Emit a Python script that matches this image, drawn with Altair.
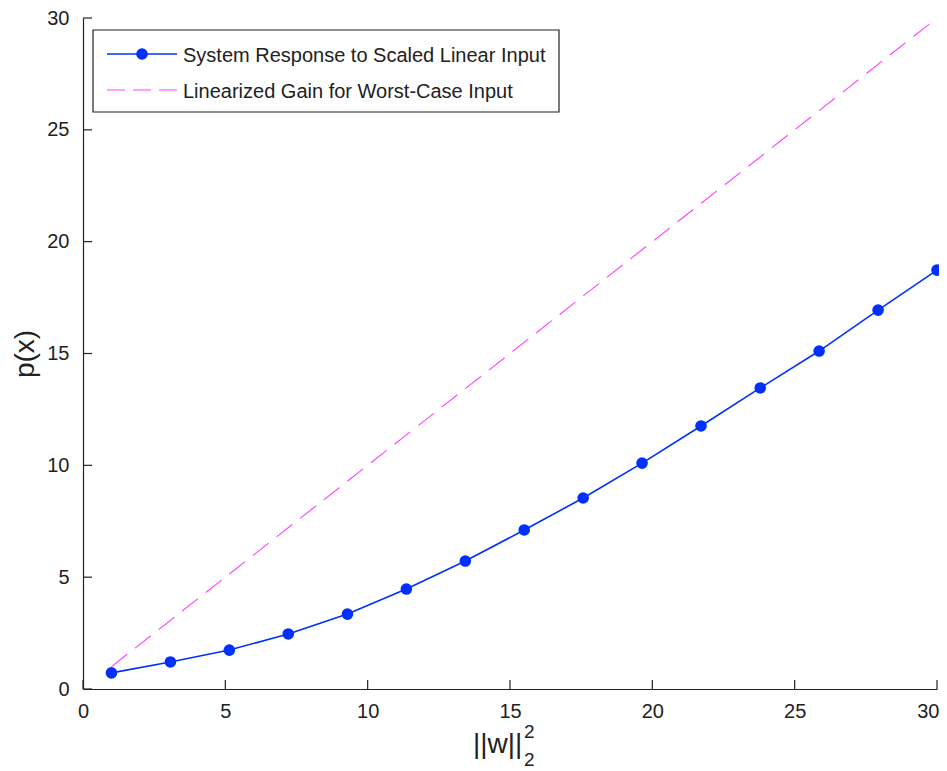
import altair as alt
import pandas as pd

# ---- data ----
x_vals = [1.0, 3.07, 5.14, 7.21, 9.29, 11.36, 13.43, 15.5, 17.57, 19.64, 21.71, 23.79, 25.86, 27.93, 30.0]
y_vals = [0.72, 1.21, 1.74, 2.46, 3.35, 4.47, 5.72, 7.11, 8.54, 10.1, 11.76, 13.46, 15.11, 16.94, 18.73]
gain_x = [1, 30]
gain_y = [1, 30]
tick_vals = [0, 5, 10, 15, 20, 25, 30]
series_names = ["System Response to Scaled Linear Input", "Linearized Gain for Worst-Case Input"]
x_title = ["||w||"]
x_title_sup = ["2"]
x_title_sub = ["2"]

W, H = 854, 671
FONT = "Liberation Sans"
BLUE = "#0030ff"
MAG = "#ff40ff"
INK = "#222222"

xs = alt.Scale(domain=[0, 30], nice=False, zero=False)
ys = alt.Scale(domain=[0, 30], nice=False, zero=False)

x_axis = alt.Axis(values=tick_vals, ticks=False, grid=False, labelFontSize=20, labelFont=FONT,
                  labelColor=INK, labelPadding=12, domainColor=INK, domainWidth=1.2,
                  title=None, labelFlush=False,
                  labelAlign=alt.condition("datum.value == 30", alt.value("right"), alt.value("center")),
                  labelOffset=alt.condition("datum.value == 30", alt.value(2), alt.value(0)))
y_axis = alt.Axis(values=tick_vals, ticks=False, grid=False, labelFontSize=20, labelFont=FONT,
                  labelColor=INK, labelPadding=14, domainColor=INK, domainWidth=1.2,
                  title="p(x)", titleFontSize=28, titleFont=FONT, titleFontWeight="normal",
                  titleColor=INK, titlePadding=7, labelFlush=False)

X = alt.X("x:Q", scale=xs, axis=x_axis)
Y = alt.Y("y:Q", scale=ys, axis=y_axis)

resp = pd.DataFrame({"x": x_vals, "y": y_vals})
gain = pd.DataFrame({"x": gain_x, "y": gain_y})
ticks = pd.DataFrame({"t": tick_vals})

gain_line = alt.Chart(gain).mark_line(color=MAG, strokeWidth=1.1, strokeDash=[20, 10]).encode(x=X, y=Y)
resp_line = alt.Chart(resp).mark_line(color=BLUE, strokeWidth=1.6).encode(x=X, y=Y)
resp_pts = alt.Chart(resp).mark_point(filled=True, shape="circle", size=135, color=BLUE, opacity=1).encode(x=X, y=Y)

xticks = alt.Chart(ticks).mark_rule(color=INK, strokeWidth=1.2).encode(
    x=alt.X("t:Q", scale=xs, axis=x_axis), y=alt.value(H), y2=alt.value(H - 9))
yticks = alt.Chart(ticks).mark_rule(color=INK, strokeWidth=1.2).encode(
    y=alt.Y("t:Q", scale=ys, axis=y_axis), x=alt.value(0), x2=alt.value(9))

# ---- legend (drawn by hand, MATLAB style) ----
leg_df = pd.DataFrame({"label": series_names})
leg_box = alt.Chart(leg_df.head(1)).mark_rect(fill="white", stroke=INK, strokeWidth=1.2).encode(
    x=alt.value(10), x2=alt.value(476), y=alt.value(12), y2=alt.value(94))
leg_l1 = alt.Chart(leg_df.head(1)).mark_rule(color=BLUE, strokeWidth=1.6).encode(
    x=alt.value(24), x2=alt.value(94), y=alt.value(36))
leg_p1 = alt.Chart(leg_df.head(1)).mark_point(filled=True, shape="circle", size=135, color=BLUE, opacity=1).encode(
    x=alt.value(59), y=alt.value(36))
leg_l2 = alt.Chart(leg_df.head(1)).mark_rule(color=MAG, strokeWidth=1.1, strokeDash=[18, 8]).encode(
    x=alt.value(24), x2=alt.value(94), y=alt.value(72))
leg_t1 = alt.Chart(leg_df.head(1)).mark_text(font=FONT, fontSize=20, align="left", baseline="middle", color=INK).encode(
    x=alt.value(100), y=alt.value(38), text="label:N")
leg_t2 = alt.Chart(leg_df.tail(1)).mark_text(font=FONT, fontSize=20, align="left", baseline="middle", color=INK).encode(
    x=alt.value(100), y=alt.value(74), text="label:N")

# ---- x-axis title with super/subscript ----
t_main = alt.Chart(pd.DataFrame({"t": x_title})).mark_text(font=FONT, fontSize=28, align="left",
                                                          baseline="alphabetic", color=INK).encode(
    x=alt.value(390), y=alt.value(735), text="t:N")
t_sup = alt.Chart(pd.DataFrame({"t": x_title_sup})).mark_text(font=FONT, fontSize=19, align="left",
                                                              baseline="alphabetic", color=INK).encode(
    x=alt.value(441), y=alt.value(720), text="t:N")
t_sub = alt.Chart(pd.DataFrame({"t": x_title_sub})).mark_text(font=FONT, fontSize=19, align="left",
                                                              baseline="alphabetic", color=INK).encode(
    x=alt.value(441), y=alt.value(748), text="t:N")

chart = alt.layer(
    gain_line, resp_line, resp_pts, xticks, yticks,
    leg_box, leg_l1, leg_p1, leg_l2, leg_t1, leg_t2,
    t_main, t_sup, t_sub,
).properties(
    width=W, height=H,
    autosize="none",
    padding={"left": 75, "top": 10, "right": 2, "bottom": 80},
    background="white",
).configure_view(stroke=None)

chart.save("out.html", embed_options={"renderer": "svg", "actions": False})
